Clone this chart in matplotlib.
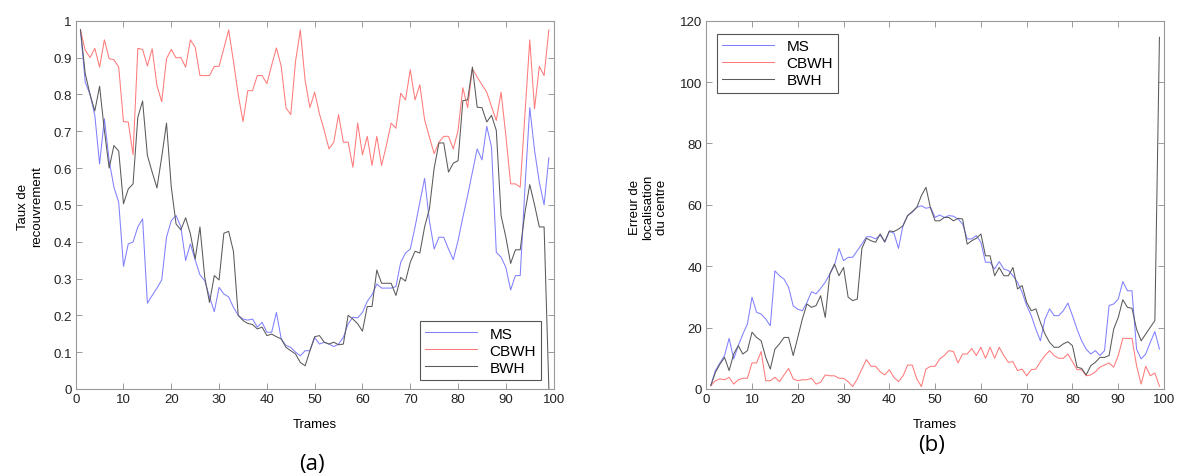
import numpy as np
import matplotlib
matplotlib.use("Agg")
import matplotlib.pyplot as plt

plt.rcParams['font.family'] = ['Liberation Sans', 'DejaVu Sans']

# Trames 1..99
trames = np.arange(1, 100)

# (a) Taux de recouvrement
recouv_ms = [0.974, 0.833, 0.80, 0.743, 0.611, 0.734, 0.62, 0.548, 0.507, 0.333,
             0.394, 0.399, 0.44, 0.462, 0.233, 0.254, 0.274, 0.296, 0.412, 0.457,
             0.471, 0.44, 0.349, 0.394, 0.35, 0.31, 0.294, 0.25, 0.21, 0.276,
             0.258, 0.25, 0.222, 0.20, 0.19, 0.187, 0.19, 0.168, 0.181, 0.154,
             0.154, 0.208, 0.136, 0.118, 0.113, 0.10, 0.09, 0.104, 0.104, 0.14,
             0.122, 0.127, 0.122, 0.115, 0.122, 0.14, 0.177, 0.195, 0.193, 0.208,
             0.238, 0.256, 0.285, 0.274, 0.274, 0.274, 0.278, 0.344, 0.369, 0.38,
             0.44, 0.507, 0.572, 0.457, 0.38, 0.412, 0.412, 0.38, 0.351, 0.403,
             0.466, 0.525, 0.589, 0.652, 0.622, 0.713, 0.657, 0.371, 0.358, 0.33,
             0.269, 0.308, 0.308, 0.548, 0.764, 0.648, 0.562, 0.50, 0.628]
recouv_cbwh = [0.974, 0.92, 0.90, 0.925, 0.874, 0.948, 0.897, 0.894, 0.874, 0.726,
               0.725, 0.636, 0.925, 0.922, 0.877, 0.924, 0.824, 0.78, 0.897, 0.922,
               0.899, 0.90, 0.874, 0.948, 0.928, 0.851, 0.851, 0.851, 0.876, 0.876,
               0.925, 0.975, 0.89, 0.80, 0.726, 0.81, 0.81, 0.851, 0.851, 0.829,
               0.879, 0.926, 0.876, 0.763, 0.745, 0.89, 0.975, 0.838, 0.764, 0.806,
               0.747, 0.702, 0.652, 0.67, 0.745, 0.67, 0.67, 0.602, 0.722, 0.636,
               0.686, 0.607, 0.686, 0.607, 0.661, 0.722, 0.708, 0.803, 0.785, 0.867,
               0.785, 0.826, 0.731, 0.684, 0.639, 0.67, 0.686, 0.686, 0.652, 0.702,
               0.818, 0.764, 0.87, 0.847, 0.826, 0.806, 0.767, 0.729, 0.806, 0.688,
               0.557, 0.557, 0.548, 0.747, 0.948, 0.761, 0.876, 0.851, 0.975]
recouv_bwh = [0.976, 0.856, 0.80, 0.755, 0.822, 0.702, 0.60, 0.661, 0.646, 0.503,
              0.543, 0.557, 0.738, 0.782, 0.634, 0.589, 0.546, 0.63, 0.722, 0.548,
              0.448, 0.432, 0.465, 0.421, 0.353, 0.44, 0.303, 0.235, 0.308, 0.296,
              0.423, 0.428, 0.374, 0.20, 0.186, 0.178, 0.175, 0.163, 0.168, 0.145,
              0.149, 0.142, 0.136, 0.113, 0.104, 0.095, 0.072, 0.063, 0.104, 0.142,
              0.145, 0.127, 0.122, 0.127, 0.12, 0.122, 0.20, 0.19, 0.177, 0.157,
              0.224, 0.224, 0.323, 0.287, 0.287, 0.287, 0.254, 0.303, 0.293, 0.344,
              0.374, 0.369, 0.44, 0.489, 0.60, 0.668, 0.668, 0.589, 0.613, 0.62,
              0.783, 0.785, 0.874, 0.765, 0.764, 0.725, 0.743, 0.702, 0.471, 0.412,
              0.341, 0.378, 0.378, 0.48, 0.555, 0.50, 0.44, 0.44, 0.0]

# (b) Erreur de localisation du centre
erreur_ms = [1.1, 6.0, 8.5, 10.9, 16.5, 9.8, 14.1, 17.9, 21.2, 29.9,
             25, 24.4, 22.8, 20.6, 38.5, 36.9, 35.8, 33.1, 27.1, 26,
             25.5, 28.2, 31.7, 31, 32.8, 34.8, 37.5, 40.2, 45.8, 41.8,
             42.9, 42.9, 45.1, 47.2, 49.6, 49.6, 48.9, 50.2, 47.8, 51.3,
             50.8, 45.8, 53.4, 56.5, 57.6, 59.2, 59.7, 58.9, 59.2, 55.9,
             56.7, 55.9, 56.5, 56.3, 55.4, 53.8, 48.9, 48.9, 50, 47.8,
             41.3, 41.3, 39.1, 41.5, 39.1, 38.6, 36.9, 34.8, 31.5, 27.2,
             23.9, 19.5, 15.7, 22.8, 26.1, 23.9, 23.9, 25.5, 28, 23.9,
             19.5, 15.7, 13, 11.4, 12.5, 10.9, 12.5, 27.2, 27.7, 29.3,
             35, 32, 32, 13, 9.8, 11.4, 15.2, 18.7, 13]
erreur_cbwh = [1.1, 2.7, 3.3, 3.0, 3.8, 1.6, 3.0, 3.5, 3.5, 8.5,
               8.5, 12.2, 2.7, 2.7, 3.8, 2.4, 4.6, 6.7, 3.3, 2.7,
               3.0, 3.0, 3.5, 1.6, 2.2, 4.6, 4.3, 4.3, 3.5, 3.5,
               2.4, 0.8, 3.3, 6.5, 9.6, 7.4, 7.4, 5.6, 4.6, 6.3,
               3.8, 2.4, 4.3, 7.8, 7.8, 3.3, 0.8, 6.5, 7.4, 7.4,
               9.8, 10.9, 12.5, 12.2, 8.5, 11.4, 11.4, 13.2, 10.9, 13.6,
               10, 13.6, 10, 13.6, 10.9, 8.7, 8.9, 6, 6.5, 4.3,
               6.3, 6.5, 8.9, 10.9, 12.5, 10.9, 10, 10, 11.4, 8.9,
               6.3, 6.3, 4.3, 4.6, 5.6, 7.1, 7.8, 8.5, 7.1, 10.9,
               16.5, 16.5, 16.5, 7.6, 1.6, 7.4, 4.3, 5.2, 0.9]
erreur_bwh = [1.1, 5.4, 8.1, 10.3, 6.0, 11.4, 14.1, 11.4, 12.5, 18.5,
              16.8, 15.7, 10.3, 6.5, 13, 14.7, 16.8, 16.8, 10.9, 16.8,
              22.8, 27.7, 26.6, 27.2, 30.4, 23.3, 37.5, 40.7, 36.9, 39.6,
              29.9, 28.8, 29.3, 45.8, 49.1, 48.3, 47.8, 50.5, 48, 51.5,
              51.3, 52.1, 53.2, 56.5, 57.8, 59.2, 63, 65.7, 58.9, 54.8,
              54.8, 55.9, 55.9, 54.8, 55.6, 55.4, 47.2, 48.3, 49.1, 50.5,
              43.4, 43.4, 36.9, 39.6, 36.9, 36.9, 39.6, 32.6, 33.7, 28.2,
              25.5, 26.1, 21.7, 17.9, 15.2, 13.6, 13.6, 14.7, 15.4, 14.1,
              7.1, 6.7, 4.6, 7.6, 8.7, 10.3, 10.3, 10.9, 19.5, 23.3,
              29.1, 26.6, 26.3, 19.5, 15.7, 17.9, 20.1, 22.3, 114.6]

c_ms = '#8080ff'
c_cbwh = '#ff7a7a'
c_bwh = '#5a5a5a'
lw = 0.75

fig = plt.figure(figsize=(11.79, 4.77), dpi=100)
ax1 = fig.add_axes([0.0642, 0.1824, 0.4054, 0.7721])
ax2 = fig.add_axes([0.599, 0.1824, 0.3883, 0.7721])


def style_axes(ax):
    for s in ax.spines.values():
        s.set_color('#999999')
        s.set_linewidth(0.8)
    ax.tick_params(direction='in', length=4, width=0.7, color='#999999',
                   labelsize=9.5, labelcolor='#222222', top=True, right=True,
                   pad=3)
    ax.set_xlim(0, 100)
    ax.set_xticks(np.arange(0, 101, 10))
    ax.set_xlabel('Trames', fontsize=9.5)
    ax.xaxis.set_label_coords(0.5, -0.078)


ax1.plot(trames, recouv_ms, color=c_ms, lw=lw, label='MS')
ax1.plot(trames, recouv_cbwh, color=c_cbwh, lw=lw, label='CBWH')
ax1.plot(trames, recouv_bwh, color=c_bwh, lw=lw, label='BWH')
style_axes(ax1)
ax1.set_ylim(0, 1)
ax1.set_yticks(np.arange(0, 1.01, 0.1))
ax1.set_yticklabels(['0', '0.1', '0.2', '0.3', '0.4', '0.5', '0.6', '0.7', '0.8', '0.9', '1'])
ax1.set_ylabel('Taux de\nrecouvrement', fontsize=9.5, multialignment='center')
ax1.yaxis.set_label_coords(-0.068, 0.497)
leg1 = ax1.legend(loc='lower right', bbox_to_anchor=(0.974, 0.024), borderaxespad=0,
                  fancybox=False, framealpha=1, edgecolor='#555555', fontsize=11,
                  handlelength=3.4, handletextpad=0.8, labelspacing=0.2,
                  borderpad=0.35)
leg1.get_frame().set_linewidth(0.8)

ax2.plot(trames, erreur_ms, color=c_ms, lw=lw, label='MS')
ax2.plot(trames, erreur_cbwh, color=c_cbwh, lw=lw, label='CBWH')
ax2.plot(trames, erreur_bwh, color=c_bwh, lw=lw, label='BWH')
style_axes(ax2)
ax2.set_ylim(0, 120)
ax2.set_yticks(np.arange(0, 121, 20))
ax2.set_ylabel('Erreur de\nlocalisation\ndu centre', fontsize=9.5, multialignment='center')
ax2.yaxis.set_label_coords(-0.083, 0.497)
leg2 = ax2.legend(loc='upper left', bbox_to_anchor=(0.023, 0.964), borderaxespad=0,
                  fancybox=False, framealpha=1, edgecolor='#555555', fontsize=11,
                  handlelength=3.4, handletextpad=0.8, labelspacing=0.2,
                  borderpad=0.35)
leg2.get_frame().set_linewidth(0.8)

fig.text(312 / 1179, 1 - 465 / 477, '(a)', fontsize=16, ha='center', va='center',
         family=['Open Sans', 'DejaVu Sans'])
fig.text(932 / 1179, 1 - 445 / 477, '(b)', fontsize=16, ha='center', va='center',
         family=['Open Sans', 'DejaVu Sans'])

fig.savefig('out.png', dpi=100)
